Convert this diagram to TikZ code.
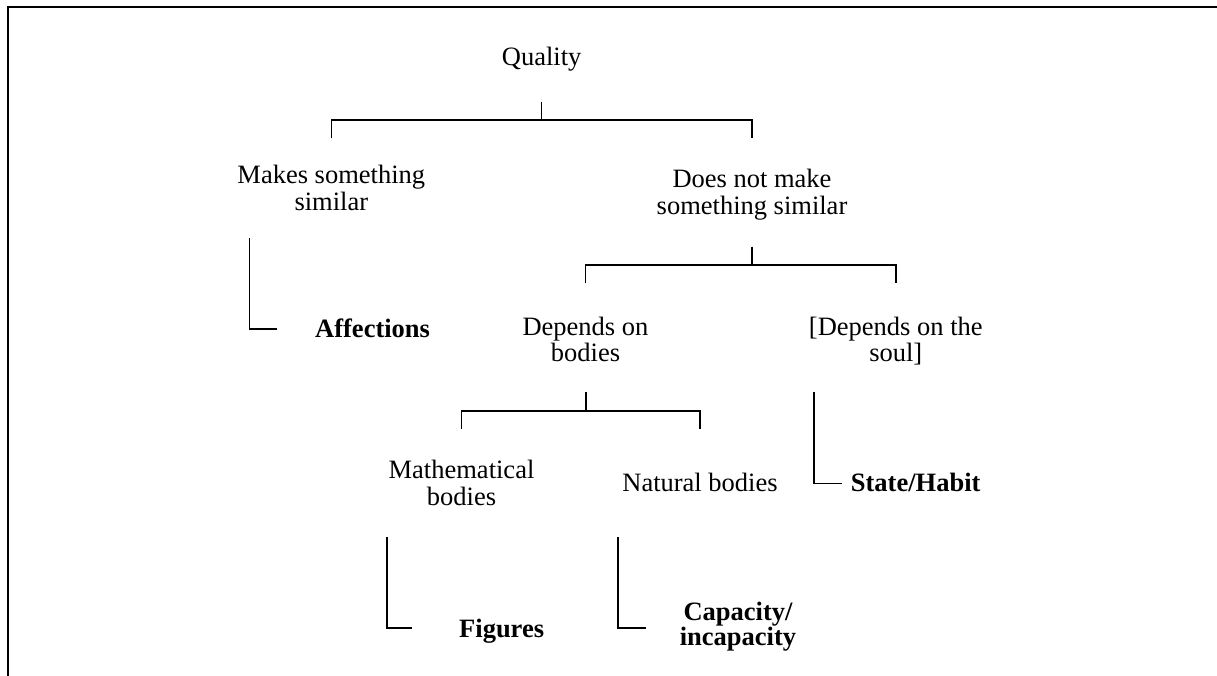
\documentclass[tikz,border=0pt]{standalone}
\usepackage{fontspec}
\setmainfont{Liberation Serif}
\usetikzlibrary{calc}
\begin{document}
\begin{tikzpicture}[x=1pt,y=-1pt,
  lbl/.style={inner sep=0pt,align=center,anchor=base,
    font=\fontsize{26.5}{26.7}\selectfont},
  leaf/.style={inner sep=0pt,align=center,anchor=base west,
    font=\fontsize{26.5}{22.5}\selectfont\bfseries},
  conn/.style={line width=1.6pt},
  frame/.style={line width=2.2pt}]
\useasboundingbox (0,0) rectangle (1217,675);

% outer frame (top and left edges)
\draw[frame] (1218,7.3) -- (8,7.3) -- (8,676);

% labels (base = baseline of the last line)
\node[lbl] (q) at (541.7,65) {Quality};
\node[lbl] (makes) at (331.3,210) {Makes something\\similar};
\node[lbl] (doesnot) at (752,214.3) {Does not make\\something similar};
\node[leaf] (aff) at (315,337.7) {Affections};
\node[lbl] (dep) at (585.5,361.7) {Depends on\\bodies};
\node[lbl] (soul) at (895.8,361.7) {[Depends on the\\soul]};
\node[lbl] (math) at (461.5,505) {Mathematical\\bodies};
\node[lbl] (nat) at (700,491.7) {Natural bodies};
\node[leaf] (state) at (850.7,491) {State/Habit};
\node[leaf] (fig) at (459,637.7) {Figures};
\node[lbl,font=\fontsize{26.5}{22.5}\selectfont\bfseries] (cap) at (738,645.2) {Capacity/\\incapacity};

% bracket junctions
\coordinate (b1) at (541.5,120);
\coordinate (b2) at (752,265);
\coordinate (b3) at (585.7,410.7);

% Quality -> two branches
\draw[conn] ($(b1)+(0,-18.3)$) -- (b1);
\draw[conn] ($(makes.base |- b1)+(0,18.3)$) -- (makes.base |- b1)
  -- (doesnot.base |- b1) -- ++(0,18.3);

% Does not make something similar -> bodies / soul
\draw[conn] ($(b2)+(0,-18.3)$) -- (b2);
\draw[conn] ($(dep.base |- b2)+(0,18.3)$) -- (dep.base |- b2)
  -- (soul.base |- b2) -- ++(0,18.3);

% Depends on bodies -> mathematical / natural
\draw[conn] ($(b3)+(0,-19)$) -- (b3);
\draw[conn] ($(math.base |- b3)+(0,18.6)$) -- (math.base |- b3)
  -- (nat.base |- b3) -- ++(0,18.6);

% elbow connectors to the leaves
\coordinate (e1) at (249.5,238.3);
\draw[conn] (e1) |- ($(aff.base west)+(-38.3,-8.7)$);
\coordinate (e2) at (814,391.7);
\draw[conn] (e2) |- ($(state.base west)+(-9,-7.7)$);
\coordinate (e3) at (387,537.3);
\draw[conn] (e3) |- ($(fig.base west)+(-46.7,-10)$);
\coordinate (e4) at (617.7,537.3);
\draw[conn] (e4) |- ($(cap.base)+(-92.3,-17.5)$);
\end{tikzpicture}
\end{document}
